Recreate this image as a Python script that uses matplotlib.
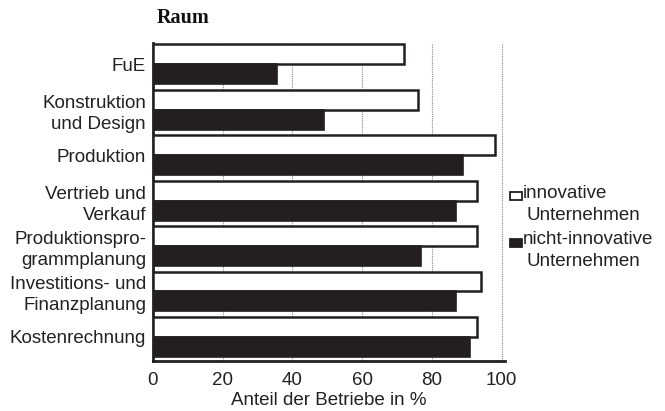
import numpy as np
import matplotlib
matplotlib.use("Agg")
import matplotlib.pyplot as plt
from matplotlib.patches import Rectangle

# Anteil der Betriebe in %
bereiche = ["FuE", "Konstruktion\nund Design", "Produktion", "Vertrieb und\nVerkauf",
            "Produktionspro-\ngrammplanung", "Investitions- und\nFinanzplanung", "Kostenrechnung"]
innovativ = [72, 76, 98, 93, 93, 94, 93]
nicht_innovativ = [35.5, 49, 89, 87, 77, 87, 91]
xticks = [0, 20, 40, 60, 80, 100]
legend_labels = ["innovative\nUnternehmen", "nicht-innovative\nUnternehmen"]

plt.rcParams['font.family'] = ['Liberation Sans', 'DejaVu Sans']
dark = '#231f20'

fig = plt.figure(figsize=(6.65, 4.11), dpi=100)
ax = fig.add_axes([153/665, 1-361/411, (505-153)/665, (361-43)/411])

y = np.arange(len(bereiche))
h = 0.44
ax.barh(y - h/2, innovativ, height=h, color='white', edgecolor=dark, linewidth=1.8, zorder=3)
ax.barh(y + h/2, nicht_innovativ, height=h, color=dark, edgecolor=dark, linewidth=1.2, zorder=3)

ax.set_xlim(0, 101)
ax.set_ylim(len(bereiche) - 0.47, -0.47)
ax.set_xticks(xticks)
ax.set_yticks(y)
ax.set_yticklabels(bereiche, fontsize=13.5, linespacing=1.3, color='#222222')
ax.tick_params(axis='x', length=0, pad=8, labelsize=13.5, labelcolor='#222222')
ax.tick_params(axis='y', length=0, pad=5)

for xv in xticks[1:]:
    ax.axvline(xv, color='#888888', linestyle=(0, (1, 1)), linewidth=0.8, zorder=1)

for s in ['top', 'right']:
    ax.spines[s].set_visible(False)
for s in ['left', 'bottom']:
    ax.spines[s].set_linewidth(2)
    ax.spines[s].set_color(dark)

ax.set_xlabel("Anteil der Betriebe in %", fontsize=13.5, labelpad=2, color='#222222')
fig.text(157/665, 1-18/411, "Raum", family='Liberation Serif', fontweight='bold',
         fontsize=14.5, va='center', ha='left', color='#111111')

# legend drawn by hand
for i, (lab, fc) in enumerate(zip(legend_labels, ['white', dark])):
    ytop = 192 + i * 47
    fig.patches.append(Rectangle((510/665, 1-(ytop+8)/411), 12/665, 8/411,
                                 transform=fig.transFigure, facecolor=fc,
                                 edgecolor=dark, linewidth=1.3))
    l1, l2 = lab.split("\n")
    fig.text(523/665, 1-(ytop+1)/411, l1, fontsize=13.5, va='center', ha='left', color='#222222')
    fig.text(527/665, 1-(ytop+23)/411, l2, fontsize=13.5, va='center', ha='left', color='#222222')

fig.savefig("out.png", dpi=100)
